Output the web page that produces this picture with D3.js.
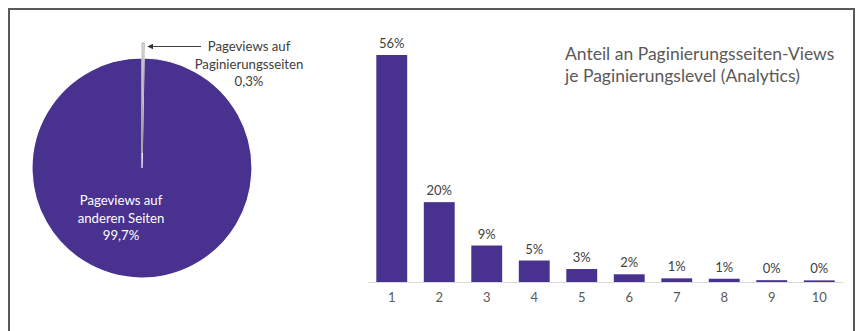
<!DOCTYPE html>
<html><head><meta charset="utf-8">
<script src="https://cdn.jsdelivr.net/npm/d3@7"></script>
<style>html,body{margin:0;padding:0;background:#fff;}svg{display:block;}</style>
</head><body>
<svg id="c" width="858" height="331"></svg>
<script>
// Pie data
const pieLabels = ["Pageviews auf Paginierungsseiten", "Pageviews auf anderen Seiten"];
const pieValues = [0.3, 99.7];
const pieText = ["0,3%", "99,7%"];
// Bar data
const levels = ["1","2","3","4","5","6","7","8","9","10"];
const shares = [56, 19.7, 9, 5.3, 3.2, 1.9, 0.9, 0.8, 0.45, 0.4];
const shareLabels = ["56%","20%","9%","5%","3%","2%","1%","1%","0%","0%"];
const titleLines = ["Anteil an Paginierungsseiten-Views", "je Paginierungslevel (Analytics)"];

const purple = "#48318f";
const font = "Lato, 'Open Sans', sans-serif";
const svg = d3.select("#c");

// frame
svg.append("rect").attr("x", 9).attr("y", 9).attr("width", 845).attr("height", 340)
  .attr("fill", "none").attr("stroke", "#595959").attr("stroke-width", 2);

// ---- Pie ----
const cx = 142, cy = 168, r = 110, explode = 15;
const pie = d3.pie().sort(null).value(d => d)(pieValues);
const arc = d3.arc().innerRadius(0).outerRadius(r);
const gp = svg.append("g").attr("transform", `translate(${cx},${cy})`);
gp.append("path").datum(pie[1]).attr("d", arc).attr("fill", purple)
  .attr("stroke", "#fff").attr("stroke-width", 1.2);
const mid = (pie[0].startAngle + pie[0].endAngle) / 2;
gp.append("path").datum(pie[0]).attr("d", arc)
  .attr("transform", `translate(${Math.sin(mid) * explode},${-Math.cos(mid) * explode})`)
  .attr("fill", "#f4f4f8").attr("stroke", "#8a8a8a").attr("stroke-width", 0.7);

// outside label
const lbl = svg.append("text").attr("font-family", font).attr("font-size", 13.2)
  .attr("fill", "#404040").attr("text-anchor", "middle");
["Pageviews auf", "Paginierungsseiten", pieText[0]].forEach((t, i) => {
  lbl.append("tspan").attr("x", 249).attr("y", 51 + i * 17.5).text(t);
});
// arrow
svg.append("defs").append("marker").attr("id", "ah").attr("viewBox", "0 0 10 10")
  .attr("refX", 9).attr("refY", 5).attr("markerWidth", 6).attr("markerHeight", 6)
  .attr("orient", "auto").append("path").attr("d", "M0,0L10,5L0,10z").attr("fill", "#333");
svg.append("line").attr("x1", 201).attr("y1", 46.5).attr("x2", 148).attr("y2", 46.5)
  .attr("stroke", "#404040").attr("stroke-width", 1).attr("marker-end", "url(#ah)");

// inside label
const il = svg.append("text").attr("font-family", font).attr("font-size", 13.2)
  .attr("fill", "#fff").attr("text-anchor", "middle");
["Pageviews auf", "anderen Seiten", pieText[1]].forEach((t, i) => {
  il.append("tspan").attr("x", 121).attr("y", 205 + i * 17.5).text(t);
});

// ---- Bars ----
const x = d3.scaleBand().domain(levels).range([368, 843]).paddingInner(0.35).paddingOuter(0.175);
const y = d3.scaleLinear().domain([0, 60]).range([282, 282 - 243.2]);
svg.append("g").selectAll("rect").data(shares).join("rect")
  .attr("x", (d, i) => x(levels[i])).attr("width", x.bandwidth())
  .attr("y", d => y(d)).attr("height", d => y(0) - y(d)).attr("fill", purple);
svg.append("g").selectAll("text").data(shares).join("text")
  .attr("x", (d, i) => x(levels[i]) + x.bandwidth() / 2).attr("y", d => y(d) - 7)
  .attr("text-anchor", "middle").attr("font-family", font).attr("font-size", 13)
  .attr("fill", "#404040").text((d, i) => shareLabels[i]);
const ax = svg.append("g").attr("transform", `translate(0,${y(0)})`)
  .call(d3.axisBottom(x).tickSize(0).tickPadding(11));
ax.select(".domain").attr("stroke", "#d9d9d9").attr("stroke-width", 1);
ax.selectAll("text").attr("font-family", font).attr("font-size", 13).attr("fill", "#595959");

// title
const tt = svg.append("text").attr("font-family", font).attr("font-size", 17.5)
  .attr("fill", "#595959");
titleLines.forEach((t, i) => tt.append("tspan").attr("x", 565).attr("y", 60 + i * 22).text(t));
</script>
</body></html>
